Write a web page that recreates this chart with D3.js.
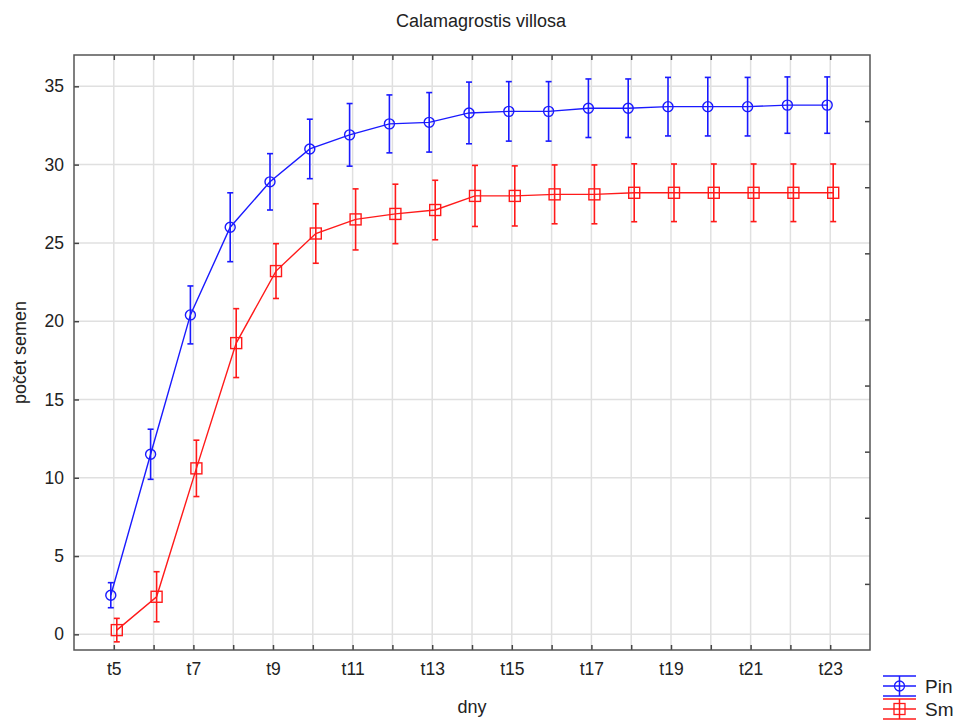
<!DOCTYPE html>
<html>
<head>
<meta charset="utf-8">
<script src="https://cdn.jsdelivr.net/npm/d3@7"></script>
<style>
  body { margin: 0; background: #fff; }
  text { font-family: "Liberation Sans", Arial, sans-serif; fill: #222; }
  .grid line { stroke: #e0e0e0; stroke-width: 1.5; }
  .frame { fill: none; stroke: #555; stroke-width: 1.5; }
</style>
</head>
<body>
<div id="chart"></div>
<script>

const margin = ({top: 55, right: 90, bottom: 72, left: 74});
const width = 960, height = 722;

// DATA
const days = ['t5','t6','t7','t8','t9','t10','t11','t12','t13','t14','t15','t16','t17','t18','t19','t20','t21','t22','t23'];
const labelDays = ['t5','t7','t9','t11','t13','t15','t17','t19','t21','t23'];
const yTicks = [0, 5, 10, 15, 20, 25, 30, 35];

const pinMean = [2.5, 11.5, 20.4, 26.0, 28.9, 31.0, 31.9, 32.6, 32.7, 33.3, 33.4, 33.4, 33.6, 33.6, 33.7, 33.7, 33.7, 33.8, 33.8];
const pinErr  = [0.8, 1.6, 1.85, 2.2, 1.8, 1.9, 2.0, 1.85, 1.9, 1.97, 1.9, 1.9, 1.87, 1.87, 1.87, 1.87, 1.87, 1.8, 1.8];
const smMean  = [0.27, 2.4, 10.6, 18.6, 23.2, 25.6, 26.5, 26.85, 27.1, 28.0, 28.0, 28.1, 28.1, 28.2, 28.2, 28.2, 28.2, 28.2, 28.2];
const smErr   = [0.75, 1.6, 1.8, 2.2, 1.75, 1.9, 1.95, 1.9, 1.9, 1.95, 1.92, 1.88, 1.88, 1.85, 1.84, 1.84, 1.84, 1.84, 1.84];

const series = [
  {name: 'Pin', mean: pinMean, err: pinErr, color: '#1a1aff', shape: 'circle', dx: -3},
  {name: 'Sm', mean: smMean, err: smErr, color: '#ff1a1a', shape: 'square', dx: 3}
];

var svg = d3.select('#chart').append('svg')
  .attr('width', width)
  .attr('height', height);

var x0 = margin.left, x1 = 870, y0 = height - margin.bottom, y1 = margin.top;

var x = d3.scalePoint()
  .domain(days)
  .range([x0, x1])
  .padding(1);

var y = d3.scaleLinear()
  .domain([-1, 37])
  .range([y0, y1]);

// GRID
var grid = svg.append('g').attr('class', 'grid');
grid.selectAll('line.v')
  .data(days)
  .enter().append('line')
  .attr('x1', d => x(d)).attr('x2', d => x(d))
  .attr('y1', y1).attr('y2', y0);
grid.selectAll('line.h')
  .data(yTicks)
  .enter().append('line')
  .attr('x1', x0).attr('x2', x1)
  .attr('y1', d => y(d)).attr('y2', d => y(d));

// AXES (ticks pointing inward on all four sides)
var tickStyle = g => {
  g.select('.domain').remove();
  g.selectAll('.tick line').attr('stroke', '#444').attr('stroke-width', 1.5);
  g.selectAll('.tick text').attr('font-size', 17.5).attr('fill', '#222')
    .attr('font-family', '"Liberation Sans", Arial, sans-serif');
};

svg.append('g')
  .attr('transform', 'translate(0,' + y0 + ')')
  .call(d3.axisBottom(x).tickSizeInner(-5).tickSizeOuter(0).tickPadding(13)
    .tickFormat(d => labelDays.includes(d) ? d : ''))
  .call(tickStyle);

svg.append('g')
  .attr('transform', 'translate(0,' + y1 + ')')
  .call(d3.axisTop(x).tickSizeInner(-5).tickSizeOuter(0).tickFormat(''))
  .call(tickStyle);

svg.append('g')
  .attr('transform', 'translate(' + x0 + ',0)')
  .call(d3.axisLeft(y).tickValues(yTicks).tickSizeInner(-5).tickSizeOuter(0).tickPadding(10))
  .call(tickStyle);

// right axis divides the range into 9 equal parts, unlabeled
var rightTicks = d3.range(1, 9).map(i => y.domain()[0] + i * (y.domain()[1] - y.domain()[0]) / 9);
svg.append('g')
  .attr('transform', 'translate(' + x1 + ',0)')
  .call(d3.axisRight(y).tickValues(rightTicks).tickSizeInner(-5).tickSizeOuter(0).tickFormat(''))
  .call(tickStyle);

svg.append('rect')
  .attr('class', 'frame')
  .attr('x', x0).attr('y', y1)
  .attr('width', x1 - x0).attr('height', y0 - y1);

// SERIES
series.forEach(s => {
  var pts = days.map((d, i) => ({px: x(d) + s.dx, m: s.mean[i], e: s.err[i]}));
  var g = svg.append('g');

  g.append('path')
    .datum(pts)
    .attr('fill', 'none')
    .attr('stroke', s.color)
    .attr('stroke-width', 1.4)
    .attr('d', d3.line().x(d => d.px).y(d => y(d.m)));

  var eb = g.selectAll('g.eb')
    .data(pts)
    .enter().append('g');
  eb.append('line')
    .attr('x1', d => d.px).attr('x2', d => d.px)
    .attr('y1', d => y(d.m + d.e)).attr('y2', d => y(d.m - d.e))
    .attr('stroke', s.color).attr('stroke-width', 1.6);
  eb.selectAll('line.cap')
    .data(d => [d.m + d.e, d.m - d.e].map(v => ({px: d.px, v: v})))
    .enter().append('line')
    .attr('x1', d => d.px - 3).attr('x2', d => d.px + 3)
    .attr('y1', d => y(d.v)).attr('y2', d => y(d.v))
    .attr('stroke', s.color).attr('stroke-width', 1.6);

  if (s.shape === 'circle') {
    g.selectAll('circle')
      .data(pts)
      .enter().append('circle')
      .attr('cx', d => d.px).attr('cy', d => y(d.m)).attr('r', 5)
      .attr('fill', 'none').attr('stroke', s.color).attr('stroke-width', 1.4);
  } else {
    g.selectAll('rect')
      .data(pts)
      .enter().append('rect')
      .attr('x', d => d.px - 5.5).attr('y', d => y(d.m) - 5.5)
      .attr('width', 11).attr('height', 11)
      .attr('fill', 'none').attr('stroke', s.color).attr('stroke-width', 1.4);
  }
});

// TITLES
svg.append('text')
  .attr('x', 481).attr('y', 27)
  .attr('text-anchor', 'middle')
  .attr('font-size', 18)
  .text('Calamagrostis villosa');

svg.append('text')
  .attr('x', (x0 + x1) / 2).attr('y', 713)
  .attr('text-anchor', 'middle')
  .attr('font-size', 18)
  .text('dny');

svg.append('text')
  .attr('transform', 'translate(26,' + ((y0 + y1) / 2) + ')rotate(-90)')
  .attr('text-anchor', 'middle')
  .attr('font-size', 18)
  .text('počet semen');

// LEGEND
var legend = svg.append('g')
  .attr('transform', 'translate(883,686)');

var item = legend.selectAll('g')
  .data(series)
  .enter().append('g')
  .attr('transform', (d, i) => 'translate(0,' + (i * 23) + ')');

item.each(function(s) {
  var g = d3.select(this);
  [-10, 0, 10].forEach(dy => {
    g.append('line').attr('x1', 0).attr('x2', 33).attr('y1', dy).attr('y2', dy)
      .attr('stroke', s.color).attr('stroke-width', 1.5);
  });
  g.append('line').attr('x1', 16.5).attr('x2', 16.5).attr('y1', -10).attr('y2', 10)
    .attr('stroke', s.color).attr('stroke-width', 1.5);
  if (s.shape === 'circle') {
    g.append('circle').attr('cx', 16.5).attr('cy', 0).attr('r', 5)
      .attr('fill', 'none').attr('stroke', s.color).attr('stroke-width', 1.3);
  } else {
    g.append('rect').attr('x', 11).attr('y', -5.5).attr('width', 11).attr('height', 11)
      .attr('fill', 'none').attr('stroke', s.color).attr('stroke-width', 1.3);
  }
  g.append('text').attr('x', 42).attr('y', 7)
    .attr('font-size', 19)
    .text(s.name);
});

</script>
</body>
</html>
